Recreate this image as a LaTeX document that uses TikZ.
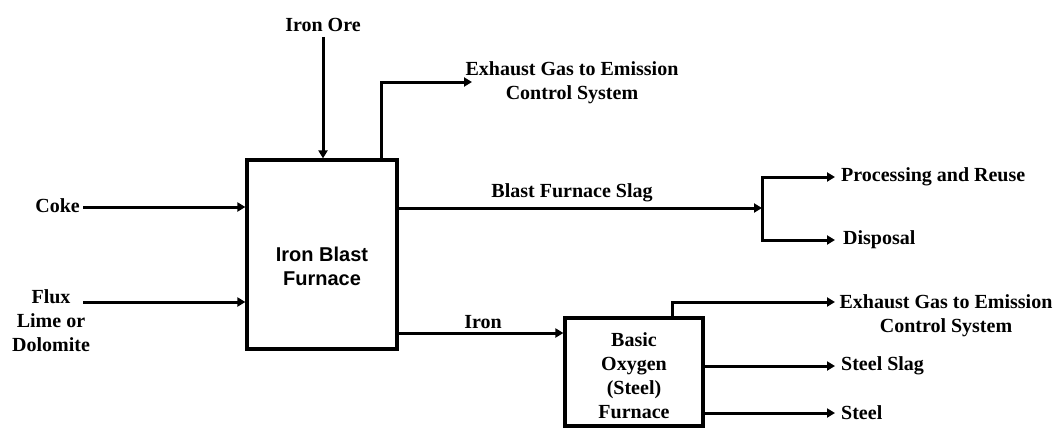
\documentclass[tikz,border=0pt]{standalone}
\usepackage{fontspec}
\setmainfont{Liberation Serif}
\newfontfamily\arialfont{Liberation Sans}
\usetikzlibrary{arrows.meta}
\begin{document}
\begin{tikzpicture}[x=1pt,y=-1pt,
  lbl/.style={font=\fontsize{20}{24}\selectfont\bfseries, inner sep=0pt, align=center},
  sanslbl/.style={font=\arialfont\fontsize{20}{24}\selectfont\bfseries, inner sep=0pt, align=center},
  box/.style={draw, line width=3.2pt, inner sep=0pt},
  flow/.style={line width=3pt, -{Triangle[length=8pt,width=9pt]}},
  plainline/.style={line width=3pt}]
\useasboundingbox (0,0) rectangle (1056,429);
% boxes
\node[box, minimum width=150pt, minimum height=189pt] (bf) at (322,254.5) {};
\node[sanslbl] (bft) at (322,266) {Iron Blast\\Furnace};
\node[box, minimum width=138pt, minimum height=108pt] (bof) at (634,372) {};
\node[lbl] (boft) at (634,376) {Basic\\Oxygen\\(Steel)\\Furnace};
% labels
\node[lbl] (ore) at (323,25) {Iron Ore};
\node[lbl, anchor=east] (coke) at (80,206) {Coke};
\node[lbl] (flux) at (51,321) {Flux\\Lime or\\Dolomite};
\node[lbl] (ex1) at (572,83) {Exhaust Gas to Emission\\Control System};
\node[lbl] (slag) at (572,193) {Blast Furnace Slag};
\node[lbl, anchor=west] (proc) at (841,177) {Processing and Reuse};
\node[lbl, anchor=west] (disp) at (843,240) {Disposal};
\node[lbl] (iron) at (483,322) {Iron};
\node[lbl] (ex2) at (946,316) {Exhaust Gas to Emission\\Control System};
\node[lbl, anchor=west] (sslag) at (841,366) {Steel Slag};
\node[lbl, anchor=west] (steel) at (841,413) {Steel};
% coordinates
\coordinate (cokestart) at (83,207);
\coordinate (fluxstart) at (83,302);
\coordinate (e1) at (381,82);
\coordinate (e1tip) at (472,82);
\coordinate (split) at (762,208);
\coordinate (splittop) at (762,177);
\coordinate (splitbot) at (762,240);
\coordinate (proctip) at (835,177);
\coordinate (disptip) at (835,240);
\coordinate (e2) at (672,302);
\coordinate (e2tip) at (835,302);
\coordinate (ironstart) at (397,333);
\coordinate (slagstart) at (397,208);
\coordinate (sslagtip) at (835,366);
\coordinate (steeltip) at (835,413);
% connectors
\draw[flow] (ore.south) ++(0,5) -- (ore.south |- bf.north);
\draw[flow] (cokestart) -- (cokestart -| bf.west);
\draw[flow] (fluxstart) -- (fluxstart -| bf.west);
\draw[flow] (e1 |- bf.north) -- (e1) -- (e1tip);
\draw[flow] (slagstart -| bf.east) -- (split);
\draw[plainline, line cap=rect] (splittop) -- (splitbot);
\draw[flow] (splittop) -- (proctip);
\draw[flow] (splitbot) -- (disptip);
\draw[flow] (ironstart -| bf.east) -- (ironstart -| bof.west);
\draw[flow] (e2 |- bof.north) -- (e2) -- (e2tip);
\draw[flow] (sslagtip -| bof.east) -- (sslagtip);
\draw[flow] (steeltip -| bof.east) -- (steeltip);
\end{tikzpicture}
\end{document}
